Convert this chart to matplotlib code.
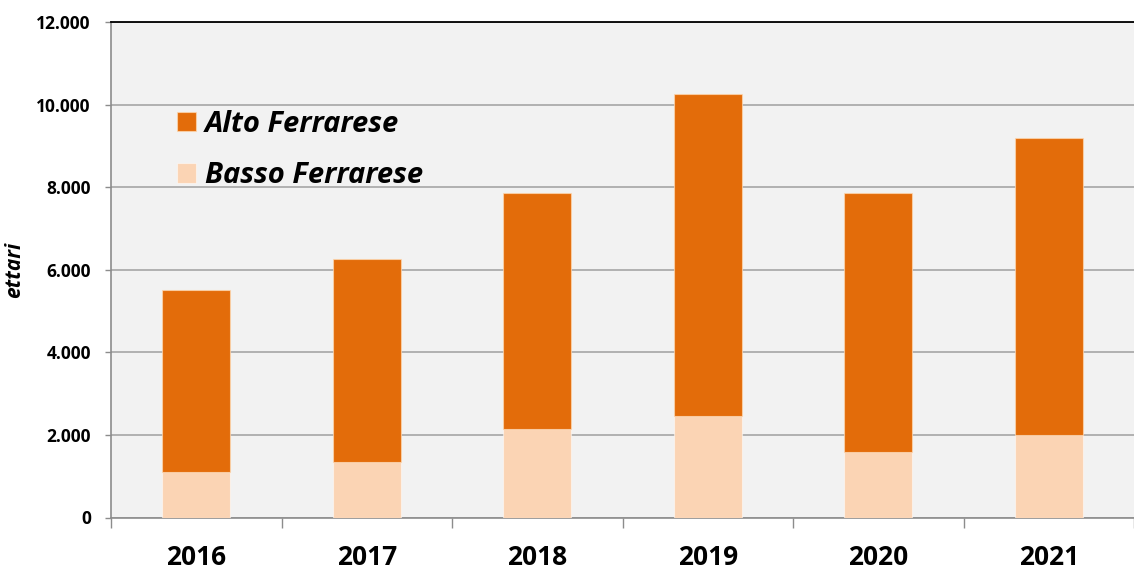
import matplotlib.pyplot as plt
import numpy as np

years = ['2016', '2017', '2018', '2019', '2020', '2021']
basso_ferrarese = [1090, 1340, 2155, 2470, 1575, 2010]
alto_ferrarese = [4425, 4912, 5709, 7790, 6289, 7188]
y_ticks = [0, 2000, 4000, 6000, 8000, 10000, 12000]
y_labels = ['0', '2.000', '4.000', '6.000', '8.000', '10.000', '12.000']

ALTO_COLOR = '#E36C0A'
BASSO_COLOR = '#FBD4B4'

plt.rcParams['font.family'] = ['Open Sans', 'DejaVu Sans']

fig = plt.figure(figsize=(11.34, 5.71), dpi=100)
ax = fig.add_axes([111 / 1134, 1 - 517.5 / 571, 1 - 111 / 1134, (517.5 - 22) / 571])
ax.set_facecolor('#F2F2F2')

x = np.arange(len(years))
width = 0.4
ax.bar(x, basso_ferrarese, width, color=BASSO_COLOR, edgecolor=(1, 1, 1, 0.5),
       linewidth=0.8, label='Basso Ferrarese', zorder=3)
ax.bar(x, alto_ferrarese, width, bottom=basso_ferrarese, color=ALTO_COLOR,
       edgecolor=(1, 0.85, 0.7, 0.7), linewidth=0.8, label='Alto Ferrarese', zorder=3)

ax.set_ylim(0, 12000)
ax.set_xlim(-0.5, len(years) - 0.5)
ax.set_yticks(y_ticks)
ax.set_yticklabels(y_labels, fontsize=12.5, fontweight='bold')
ax.yaxis.grid(True, color='#A6A6A6', linewidth=1.2, zorder=0)
ax.set_axisbelow(True)

ax.set_xticks(x)
ax.set_xticklabels(years, fontsize=19, fontweight='bold')
ax.set_xticks(np.arange(-0.5, len(years)), minor=True)
ax.tick_params(axis='x', which='major', length=0, pad=19)
ax.tick_params(axis='x', which='minor', length=7.5, width=1, color='#8C8C8C')
ax.tick_params(axis='y', length=4.5, width=1, color='#8C8C8C', pad=10)

for side in ['left', 'bottom']:
    ax.spines[side].set_color('#8C8C8C')
    ax.spines[side].set_linewidth(1.2)
ax.spines['top'].set_color('black')
ax.spines['top'].set_linewidth(1.3)
ax.spines['right'].set_visible(False)

ax.set_ylabel('ettari', fontsize=15, fontweight='bold', fontstyle='italic', labelpad=8)

handles, labels = ax.get_legend_handles_labels()
ax.legend(handles[::-1], labels[::-1], loc='upper left', bbox_to_anchor=(0.039, 0.876),
          frameon=False, handlelength=0.65, handleheight=0.65, handletextpad=0.3,
          labelspacing=0.78, prop={'size': 21, 'weight': 'bold', 'style': 'italic'})

fig.savefig('out.png', dpi=100)
